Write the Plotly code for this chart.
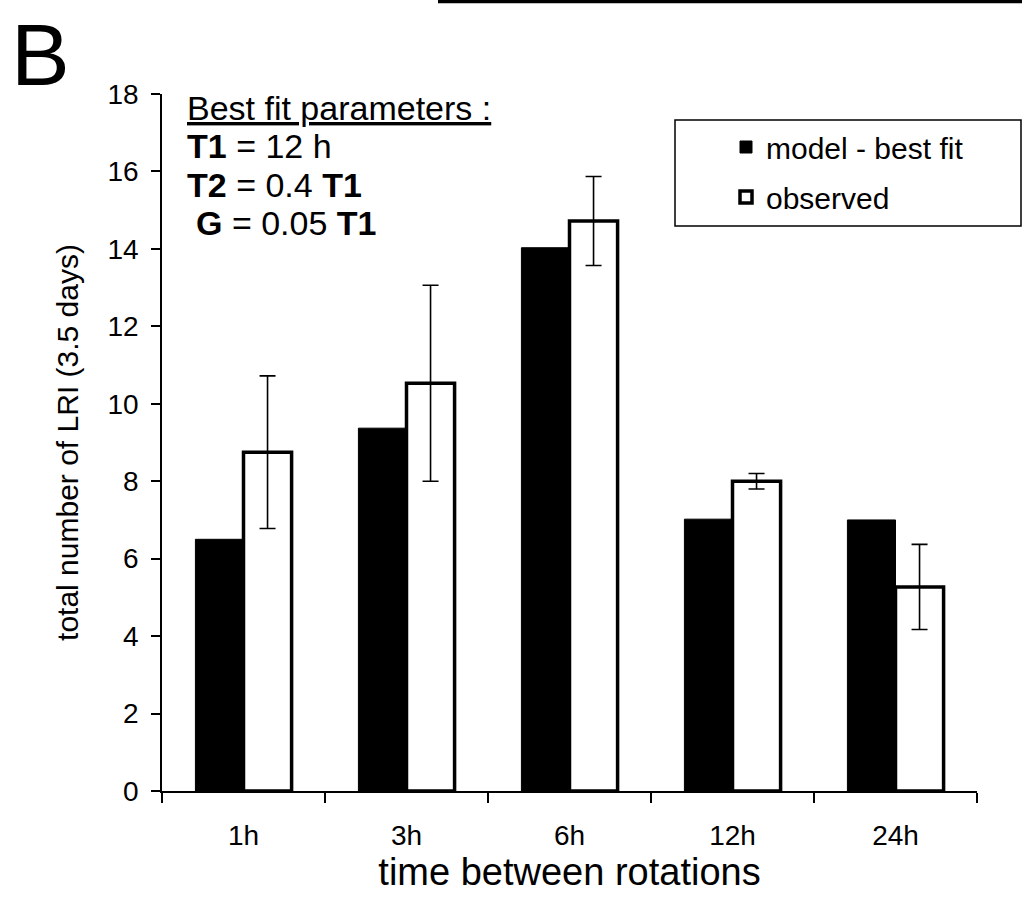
import plotly.graph_objects as go

# ---- data ----
categories = ["1h", "3h", "6h", "12h", "24h"]
model_best_fit = [6.5, 9.37, 14.03, 7.02, 7.0]
observed = [8.75, 10.53, 14.72, 8.0, 5.27]
observed_err = [1.97, 2.53, 1.15, 0.2, 1.1]
y_ticks = [0, 2, 4, 6, 8, 10, 12, 14, 16, 18]

FONT = "Liberation Sans, Arial, sans-serif"

W, H = 1022, 914
# plot area in page pixels: x 162..977, y 94..791
PL, PR, PT, PB = 162, 977, 94, 791
L, R, T, B = PL, W - PR, PT, H - PB
PW, PH = PR - PL, PB - PT


def px(x):
    return (x - PL) / PW


def py(y):
    return (PB - y) / PH


fig = go.Figure()
fig.add_trace(go.Bar(
    x=categories, y=model_best_fit, name="model - best fit",
    marker=dict(color="black", line=dict(color="black", width=1)),
    legendgroup="a",
))
fig.add_trace(go.Bar(
    x=categories, y=observed, name="observed",
    marker=dict(color="white", line=dict(color="black", width=3.5)),
    error_y=dict(type="data", array=observed_err, visible=True,
                 color="black", thickness=1.6, width=8),
    legendgroup="b",
))

fig.update_layout(
    width=W, height=H,
    margin=dict(l=L, r=R, t=T, b=B, pad=0),
    paper_bgcolor="white", plot_bgcolor="white",
    barmode="group", bargap=0.41, bargroupgap=0,
    font=dict(family=FONT, color="black", size=28),
    showlegend=True,
    legend=dict(x=px(726), y=py(121), xanchor="left", yanchor="top",
                bgcolor="rgba(0,0,0,0)", borderwidth=0,
                font=dict(size=30, family=FONT, color="black"),
                tracegroupgap=8, traceorder="grouped"),
    xaxis=dict(
        type="category", showline=True, linecolor="black", linewidth=1.5,
        ticks="outside", tickson="boundaries", ticklen=10, tickwidth=1.5,
        tickcolor="black", showgrid=False, zeroline=False,
        tickfont=dict(size=28, family=FONT), ticklabelstandoff=19,
        title=dict(text="time between rotations", font=dict(size=38, family=FONT),
                   standoff=0),
    ),
    yaxis=dict(
        range=[0, 18], tickvals=y_ticks, showline=True, linecolor="black",
        linewidth=1.5, ticks="outside", ticklen=9, tickwidth=1.5,
        tickcolor="black", showgrid=False, zeroline=False,
        tickfont=dict(size=28, family=FONT), ticklabelstandoff=7,
        title=dict(text="total number of LRI (3.5 days)",
                   font=dict(size=30, family=FONT), standoff=20),
    ),
)

# legend frame
fig.add_shape(type="rect", xref="paper", yref="paper",
              x0=px(675), x1=px(1021), y0=py(226), y1=py(120),
              line=dict(color="black", width=1.5), fillcolor="rgba(0,0,0,0)")

# fragment of the panel border above
fig.add_shape(type="line", xref="paper", yref="paper",
              x0=px(438), x1=px(1024), y0=py(1.5), y1=py(1.5),
              line=dict(color="black", width=3.5))

# panel letter
fig.add_annotation(text="B", xref="paper", yref="paper",
                   x=px(40), y=py(3), xanchor="center", yanchor="top",
                   showarrow=False, font=dict(size=88, family=FONT, color="black"))

# best fit parameter text
param_lines = [
    ("<u>Best fit parameters :</u>", 185, 108),
    ("<b>T1</b> = 12 h", 185, 146),
    ("<b>T2</b> = 0.4 <b>T1</b>", 185, 185),
    ("<b>G</b> = 0.05 <b>T1</b>", 194, 223),
]
for txt, xp, yp in param_lines:
    fig.add_annotation(text=txt, xref="paper", yref="paper",
                       x=px(xp), y=py(yp), xanchor="left", yanchor="middle",
                       showarrow=False, align="left",
                       font=dict(size=34, family=FONT, color="black"))

fig.write_html("out.html",
               config={"displayModeBar": False},
               post_script="document.body.style.margin='0';"
                           "document.body.style.overflow='hidden';")
